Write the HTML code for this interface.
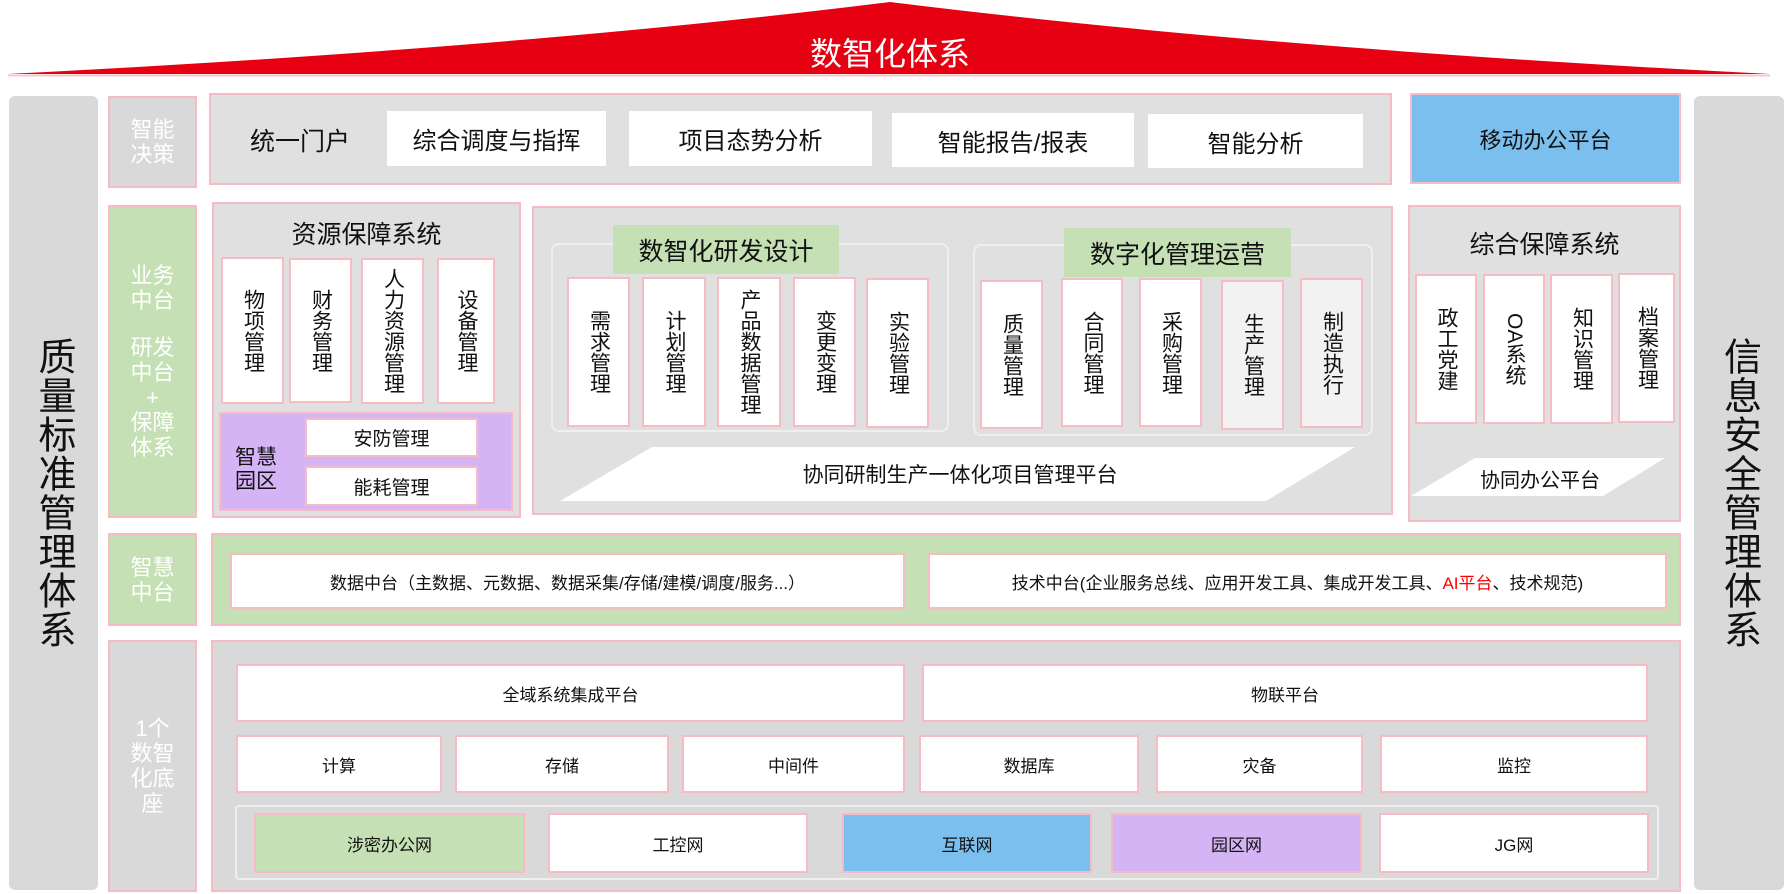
<!DOCTYPE html>
<html><head><meta charset="utf-8">
<style>
body{margin:0;width:1784px;height:894px;background:#fff;position:relative;overflow:hidden;font-family:"Liberation Sans","Noto Sans CJK SC",sans-serif;color:#111}
.a{position:absolute;box-sizing:border-box}
.c{display:flex;align-items:center;justify-content:center;text-align:center}
.pb{border:2px solid #f6bcc3}
.g{background:#e0e0e0}
.w{background:#fff}
.lab{color:#fff;font-size:22px;line-height:25px;flex-direction:column}
.v{writing-mode:vertical-rl;font-size:21px;line-height:22px;letter-spacing:0}
.side{background:#d9d9d9;border-radius:6px;font-size:38px;writing-mode:vertical-rl;text-orientation:upright;letter-spacing:1px}
.t16{font-size:17px}
</style></head><body>
<svg class="a" style="left:0;top:0" width="1784" height="80"><path d="M8,74 Q520,48 890,2 Q1260,48 1770,74 Z" fill="#e60012"/><line x1="8" y1="75.5" x2="1770" y2="75.5" stroke="#f8c6cb" stroke-width="2"/></svg>
<div class="a c" style="left:690px;top:30px;width:400px;height:44px;color:#fff;font-size:32px">数智化体系</div>

<div class="a side c" style="left:9px;top:96px;width:89px;height:794px">质量标准管理体系</div>
<div class="a side c" style="left:1694px;top:96px;width:90px;height:794px">信息安全管理体系</div>

<!-- row 1 -->
<div class="a c lab pb" style="left:108px;top:96px;width:89px;height:92px;background:#d9d9d9"><span>智能</span><span>决策</span></div>
<div class="a pb g" style="left:209px;top:93px;width:1183px;height:92px"></div>
<div class="a c" style="left:230px;top:115px;width:140px;height:50px;font-size:25px">统一门户</div>
<div class="a c w" style="left:387px;top:111px;width:219px;height:55px;font-size:24px">综合调度与指挥</div>
<div class="a c w" style="left:629px;top:111px;width:243px;height:55px;font-size:24px">项目态势分析</div>
<div class="a c w" style="left:892px;top:113px;width:242px;height:54px;font-size:24px">智能报告/报表</div>
<div class="a c w" style="left:1148px;top:114px;width:215px;height:54px;font-size:24px">智能分析</div>
<div class="a c pb" style="left:1410px;top:93px;width:271px;height:91px;background:#7bbfee;font-size:22px">移动办公平台</div>

<!-- row 2 -->
<div class="a c lab pb" style="left:108px;top:205px;width:89px;height:313px;background:#c5e0b4"><span>业务</span><span>中台</span><span style="height:22px"></span><span>研发</span><span>中台</span><span>+</span><span>保障</span><span>体系</span></div>
<div class="a pb g" style="left:212px;top:202px;width:309px;height:316px"></div>
<div class="a c" style="left:212px;top:215px;width:309px;height:36px;font-size:25px">资源保障系统</div>
<div class="a c pb w v" style="left:221px;top:257px;width:63px;height:147px">物项管理</div>
<div class="a c pb w v" style="left:289px;top:258px;width:63px;height:145px">财务管理</div>
<div class="a c pb w v" style="left:361px;top:258px;width:63px;height:146px">人力资源管理</div>
<div class="a c pb w v" style="left:437px;top:258px;width:58px;height:146px">设备管理</div>
<div class="a pb" style="left:219px;top:412px;width:294px;height:99px;background:#d5b4f5"></div>
<div class="a c" style="left:230px;top:445px;width:52px;height:50px;font-size:21px;line-height:24px">智慧<br>园区</div>
<div class="a c pb w" style="left:305px;top:418px;width:173px;height:39px;font-size:19px">安防管理</div>
<div class="a c pb w" style="left:305px;top:466px;width:173px;height:40px;font-size:19px">能耗管理</div>

<div class="a pb g" style="left:532px;top:206px;width:861px;height:309px"></div>
<div class="a" style="left:551px;top:243px;width:398px;height:189px;border:2px solid #efefef;border-radius:8px"></div>
<div class="a" style="left:973px;top:244px;width:400px;height:192px;border:2px solid #efefef;border-radius:8px"></div>
<div class="a c" style="left:613px;top:225px;width:226px;height:49px;background:#c5e0b4;font-size:25px">数智化研发设计</div>
<div class="a c" style="left:1064px;top:228px;width:227px;height:49px;background:#c5e0b4;font-size:25px">数字化管理运营</div>
<div class="a c pb w v" style="left:567px;top:277px;width:63px;height:150px">需求管理</div>
<div class="a c pb w v" style="left:642px;top:277px;width:64px;height:150px">计划管理</div>
<div class="a c pb w v" style="left:717px;top:277px;width:64px;height:150px">产品数据管理</div>
<div class="a c pb w v" style="left:793px;top:277px;width:63px;height:150px">变更变理</div>
<div class="a c pb w v" style="left:866px;top:278px;width:63px;height:150px">实验管理</div>
<div class="a c pb w v" style="left:980px;top:280px;width:63px;height:149px">质量管理</div>
<div class="a c pb w v" style="left:1061px;top:278px;width:62px;height:149px">合同管理</div>
<div class="a c pb w v" style="left:1139px;top:278px;width:63px;height:149px">采购管理</div>
<div class="a c pb v" style="left:1221px;top:280px;width:63px;height:150px;background:#f2f2f2">生产管理</div>
<div class="a c pb v" style="left:1300px;top:278px;width:63px;height:150px;background:#f2f2f2">制造执行</div>

<div class="a pb g" style="left:1408px;top:205px;width:273px;height:317px"></div>
<div class="a c" style="left:1408px;top:225px;width:273px;height:36px;font-size:25px">综合保障系统</div>
<div class="a c pb w v" style="left:1415px;top:274px;width:62px;height:150px">政工党建</div>
<div class="a c pb w v" style="left:1483px;top:274px;width:62px;height:150px">OA系统</div>
<div class="a c pb w v" style="left:1550px;top:274px;width:63px;height:150px">知识管理</div>
<div class="a c pb w v" style="left:1618px;top:273px;width:57px;height:150px">档案管理</div>

<svg class="a" style="left:0;top:0" width="1784" height="894"><polygon points="560,501 652,447 1355,447 1266,501" fill="#fff"/><polygon points="1411,496 1475,458 1665,458 1603,496" fill="#fff"/></svg>
<div class="a c" style="left:700px;top:453px;width:520px;height:42px;font-size:21px">协同研制生产一体化项目管理平台</div>
<div class="a c" style="left:1460px;top:462px;width:160px;height:32px;font-size:20px">协同办公平台</div>

<!-- row 3 -->
<div class="a c lab pb" style="left:108px;top:533px;width:89px;height:93px;background:#c5e0b4"><span>智慧</span><span>中台</span></div>
<div class="a pb" style="left:211px;top:533px;width:1470px;height:93px;background:#c5e0b4"></div>
<div class="a c pb w t16" style="left:230px;top:553px;width:675px;height:56px">数据中台（主数据、元数据、数据采集/存储/建模/调度/服务...）</div>
<div class="a c pb w t16" style="left:928px;top:553px;width:739px;height:56px">技术中台(企业服务总线、应用开发工具、集成开发工具、<span style="color:#f00">AI平台</span>、技术规范)</div>

<!-- row 4 -->
<div class="a c lab pb" style="left:108px;top:640px;width:89px;height:252px;background:#d9d9d9"><span>1个</span><span>数智</span><span>化底</span><span>座</span></div>
<div class="a pb" style="left:211px;top:640px;width:1470px;height:252px;background:#d9d9d9"></div>
<div class="a c pb w t16" style="left:236px;top:664px;width:669px;height:58px">全域系统集成平台</div>
<div class="a c pb w t16" style="left:922px;top:664px;width:726px;height:58px">物联平台</div>
<div class="a c pb w t16" style="left:236px;top:735px;width:206px;height:58px">计算</div>
<div class="a c pb w t16" style="left:455px;top:735px;width:214px;height:58px">存储</div>
<div class="a c pb w t16" style="left:682px;top:735px;width:223px;height:58px">中间件</div>
<div class="a c pb w t16" style="left:919px;top:735px;width:220px;height:58px">数据库</div>
<div class="a c pb w t16" style="left:1156px;top:735px;width:207px;height:58px">灾备</div>
<div class="a c pb w t16" style="left:1380px;top:735px;width:268px;height:58px">监控</div>
<div class="a" style="left:235px;top:805px;width:1424px;height:75px;border:2px solid #efefef;border-radius:4px"></div>
<div class="a c pb t16" style="left:254px;top:813px;width:271px;height:60px;background:#c5e0b4">涉密办公网</div>
<div class="a c pb w t16" style="left:548px;top:813px;width:260px;height:60px">工控网</div>
<div class="a c pb t16" style="left:842px;top:813px;width:250px;height:60px;background:#7bbfee">互联网</div>
<div class="a c pb t16" style="left:1111px;top:813px;width:251px;height:60px;background:#d5b4f5">园区网</div>
<div class="a c pb w t16" style="left:1379px;top:813px;width:270px;height:60px">JG网</div>
</body></html>
